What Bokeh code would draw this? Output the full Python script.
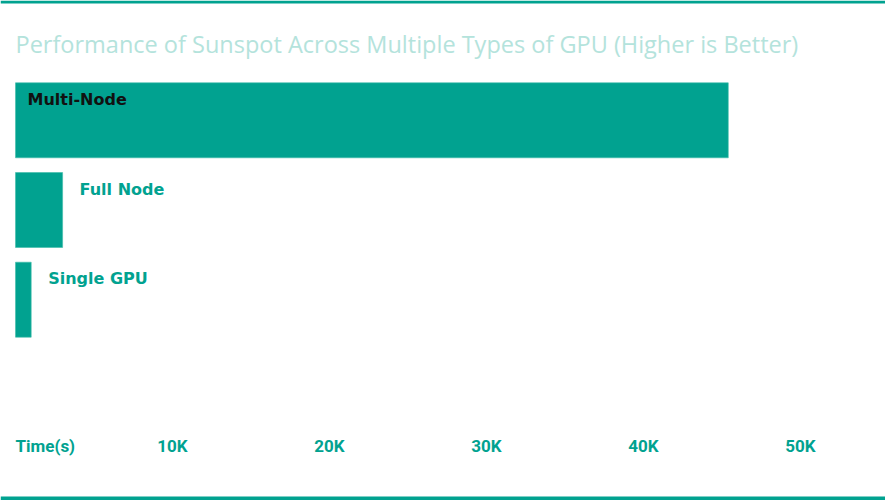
from bokeh.plotting import figure
from bokeh.models import Range1d, Span, Label, ColumnDataSource
from bokeh.core.properties import value
from bokeh.embed import file_html
from bokeh.resources import INLINE

# ---- data ----
categories = ["Multi-Node", "Full Node", "Single GPU"]
times = [45400, 3000, 1000]
tick_values = [0, 10000, 20000, 30000, 40000, 50000]
tick_labels = ["Time(s)", "10K", "20K", "30K", "40K", "50K"]
title_text = "Performance of Sunspot Across Multiple Types of  GPU (Higher is Better)"

# ---- style / layout ----
W, H = 885, 500
TEAL = "#01a290"
TITLE_COLOR = "#b4e3dc"
PX_PER_UNIT = 15.7 / 1000.0   # pixels per second
X0_PX = 15                     # pixel where 0 sits
BAR_TOP0 = 82.3
BAR_STEP = 89.7
BAR_H = 75

p = figure(width=W, height=H, output_backend="svg", toolbar_location=None,
           x_range=Range1d(-X0_PX / PX_PER_UNIT, (W - X0_PX) / PX_PER_UNIT),
           y_range=Range1d(H, 0), min_border=0, outline_line_color=None,
           background_fill_color="white", border_fill_color="white")
p.xaxis.visible = False
p.yaxis.visible = False
p.grid.visible = False

tops = [BAR_TOP0 + i * BAR_STEP for i in range(len(categories))]
centers = [t + BAR_H / 2 for t in tops]
src = ColumnDataSource(dict(cat=categories, t=times, y=centers, top=tops))
p.hbar(y="y", left=0, right="t", height=BAR_H, source=src,
       fill_color=TEAL, line_color="#3fbcaa", line_width=0.6)

# labels: inside for long bar, outside otherwise
threshold = 10000
inside = dict(x=[], y=[], text=[])
outside = dict(x=[], y=[], text=[])
for c, t, top in zip(categories, times, tops):
    if t > threshold:
        inside["x"].append(0); inside["y"].append(top + 16.5); inside["text"].append(c)
    else:
        outside["x"].append(t); outside["y"].append(top + 16.5); outside["text"].append(c)
p.text(x="x", y="y", text="text", source=ColumnDataSource(inside), x_offset=12,
       text_font=value("DejaVu Sans"), text_font_style="bold", text_font_size="16px",
       text_color="#111111", text_baseline="alphabetic", text_align="left")
p.text(x="x", y="y", text="text", source=ColumnDataSource(outside), x_offset=17,
       text_font=value("DejaVu Sans"), text_font_style="bold", text_font_size="16px",
       text_color=TEAL, text_baseline="alphabetic", text_align="left")

# axis tick labels
ty = 445.5
p.text(x=tick_values[:1], y=[ty], text=tick_labels[:1],
       text_font=value("Roboto"), text_font_style="bold", text_font_size="17px",
       text_color=TEAL, text_baseline="alphabetic", text_align="left")
p.text(x=tick_values[1:], y=[ty] * (len(tick_values) - 1), text=tick_labels[1:],
       text_font=value("Roboto"), text_font_style="bold", text_font_size="17px",
       text_color=TEAL, text_baseline="alphabetic", text_align="center")

# title
p.add_layout(Label(x=0, y=43, text=title_text, text_font="Open Sans",
                   text_font_size="23.5px", text_color=TITLE_COLOR,
                   text_baseline="alphabetic", text_align="left"))

# top/bottom rules
p.add_layout(Span(location=1.5, dimension="width", line_color=TEAL, line_width=3))
p.add_layout(Span(location=498, dimension="width", line_color=TEAL, line_width=4))

open("out.html", "w").write(file_html(p, INLINE))
